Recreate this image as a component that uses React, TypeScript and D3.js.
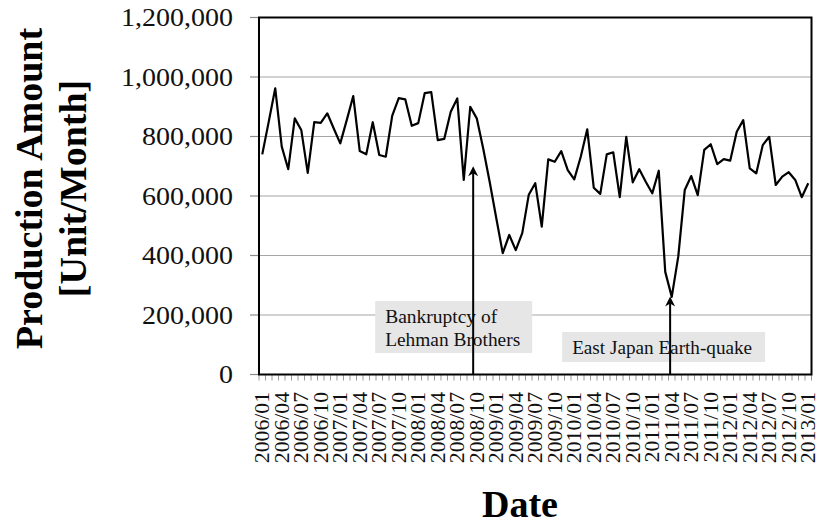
import React from "react";
import * as d3 from "d3";

// monthly categories, 2006/01 .. 2013/01
const months = [
  "2006/01", "2006/02", "2006/03", "2006/04", "2006/05", "2006/06", "2006/07", "2006/08", "2006/09", "2006/10", "2006/11", "2006/12",
  "2007/01", "2007/02", "2007/03", "2007/04", "2007/05", "2007/06", "2007/07", "2007/08", "2007/09", "2007/10", "2007/11", "2007/12",
  "2008/01", "2008/02", "2008/03", "2008/04", "2008/05", "2008/06", "2008/07", "2008/08", "2008/09", "2008/10", "2008/11", "2008/12",
  "2009/01", "2009/02", "2009/03", "2009/04", "2009/05", "2009/06", "2009/07", "2009/08", "2009/09", "2009/10", "2009/11", "2009/12",
  "2010/01", "2010/02", "2010/03", "2010/04", "2010/05", "2010/06", "2010/07", "2010/08", "2010/09", "2010/10", "2010/11", "2010/12",
  "2011/01", "2011/02", "2011/03", "2011/04", "2011/05", "2011/06", "2011/07", "2011/08", "2011/09", "2011/10", "2011/11", "2011/12",
  "2012/01", "2012/02", "2012/03", "2012/04", "2012/05", "2012/06", "2012/07", "2012/08", "2012/09", "2012/10", "2012/11", "2012/12",
  "2013/01",
];

const production = [
  740000, 850000, 962000, 766000, 690000, 861000, 822000, 678000, 848000, 846000, 878000, 827000,
  777000, 855000, 936000, 751000, 740000, 848000, 738000, 732000, 870000, 929000, 925000, 836000,
  845000, 946000, 949000, 788000, 792000, 883000, 928000, 654000, 900000, 861000, 759000, 646000,
  526000, 408000, 469000, 418000, 475000, 604000, 643000, 497000, 723000, 715000, 751000, 687000,
  656000, 732000, 824000, 628000, 607000, 740000, 747000, 596000, 799000, 646000, 690000, 648000,
  609000, 685000, 345000, 261000, 396000, 620000, 667000, 603000, 755000, 774000, 707000, 724000,
  719000, 816000, 855000, 693000, 676000, 771000, 799000, 637000, 665000, 680000, 654000, 596000,
  643000,
];

const tickLabels = [
  "2006/01", "2006/04", "2006/07", "2006/10", "2007/01", "2007/04", "2007/07", "2007/10",
  "2008/01", "2008/04", "2008/07", "2008/10", "2009/01", "2009/04", "2009/07", "2009/10",
  "2010/01", "2010/04", "2010/07", "2010/10", "2011/01", "2011/04", "2011/07", "2011/10",
  "2012/01", "2012/04", "2012/07", "2012/10", "2013/01",
];

const yTicks = [0, 200000, 400000, 600000, 800000, 1000000, 1200000];

// arrows: position in month index, tip value
const annotations = [
  { lines: ["Bankruptcy of", "Lehman Brothers"], at: 32.45, tip: 700000 },
  { lines: ["East Japan Earth-quake"], at: 62.75, tip: 262000 },
];

const serif = "'Liberation Serif', 'Times New Roman', serif";

export default function App() {
  const width = 822;
  const height = 524;
  const plot = { left: 259, right: 811.5, top: 17.5, bottom: 374.5 };

  const x = d3.scaleLinear()
    .domain([-0.5, months.length - 0.5])
    .range([plot.left, plot.right]);
  const y = d3.scaleLinear()
    .domain([0, 1200000])
    .range([plot.bottom, plot.top]);

  const line = d3.line<number>()
    .x((_, i) => x(i))
    .y((d) => y(d));

  const fmt = d3.format(",");
  const boundaries = d3.range(0, months.length + 1).map((i) => x(i - 0.5));

  const [lehman, quake] = annotations;
  const lx = x(lehman.at);
  const qx = x(quake.at);

  const arrowHead = (ax: number, ay: number) =>
    `M${ax},${ay} L${ax - 5},${ay + 10} L${ax},${ay + 7} L${ax + 5},${ay + 10} Z`;

  return (
    <svg width={width} height={height} style={{ position: "absolute", left: 0, top: 0, background: "#fff" }}>
      {/* gridlines */}
      {yTicks.slice(1, -1).map((t) => (
        <line key={t} x1={plot.left} x2={plot.right} y1={y(t)} y2={y(t)} stroke="#a6a6a6" strokeWidth={1.2} />
      ))}
      {/* y ticks */}
      {yTicks.map((t) => (
        <line key={"yt" + t} x1={plot.left - 9} x2={plot.left} y1={y(t)} y2={y(t)} stroke="#8c8c8c" strokeWidth={1.2} />
      ))}
      {/* x minor ticks */}
      {boundaries.map((bx, i) => (
        <line key={"xt" + i} x1={bx} x2={bx} y1={plot.bottom} y2={plot.bottom + 6} stroke="#9a9a9a" strokeWidth={1} />
      ))}

      {/* annotation boxes */}
      <rect x={lx - 98} y={301} width={157} height={52} fill="#e6e6e6" />
      {lehman.lines.map((s, i) => (
        <text key={s} x={lx - 88} y={323 + i * 23} fontFamily={serif} fontSize={18.5} textLength={i === 0 ? 112 : 135} lengthAdjust="spacingAndGlyphs" fill="#111">{s}</text>
      ))}
      <rect x={qx - 108} y={332} width={203} height={30} fill="#e6e6e6" />
      <text x={qx - 98} y={354} fontFamily={serif} fontSize={18.5} textLength={180} lengthAdjust="spacingAndGlyphs" fill="#111">{quake.lines[0]}</text>

      {/* frame */}
      <rect x={plot.left} y={plot.top} width={plot.right - plot.left} height={plot.bottom - plot.top} fill="none" stroke="#000" strokeWidth={2} />

      {/* series */}
      <path d={line(production) ?? ""} fill="none" stroke="#000" strokeWidth={2.2} strokeLinejoin="round" />

      {/* arrows */}
      <line x1={lx} x2={lx} y1={y(lehman.tip) + 6} y2={plot.bottom} stroke="#000" strokeWidth={2} />
      <path d={arrowHead(lx, y(lehman.tip))} fill="#000" />
      <line x1={qx} x2={qx} y1={y(quake.tip) + 6} y2={plot.bottom} stroke="#000" strokeWidth={2} />
      <path d={arrowHead(qx, y(quake.tip))} fill="#000" />

      {/* y tick labels */}
      {yTicks.map((t) => (
        <g key={"yl" + t} transform={`translate(233,${y(t)}) scale(1.12,1)`}>
          <text textAnchor="end" dy="0.35em" fontFamily={serif} fontSize={25} fill="#111">{fmt(t)}</text>
        </g>
      ))}

      {/* x tick labels */}
      {tickLabels.map((lab) => (
        <g key={lab} transform={`translate(${x(months.indexOf(lab))},392) rotate(-90) scale(1.06,1)`}>
          <text textAnchor="end" dy="0.35em" fontFamily={serif} fontSize={20.5} fill="#111">{lab}</text>
        </g>
      ))}

      {/* axis titles */}
      <g transform="translate(0,188.5) rotate(-90)" fontFamily={serif} fontWeight="bold" fontSize={38} fill="#000" textAnchor="middle">
        <text x={0} y={42}>Production Amount</text>
        <text x={0} y={86}>[Unit/Month]</text>
      </g>
      <text x={520} y={517} fontFamily={serif} fontWeight="bold" fontSize={38} textAnchor="middle" fill="#000">Date</text>
    </svg>
  );
}
